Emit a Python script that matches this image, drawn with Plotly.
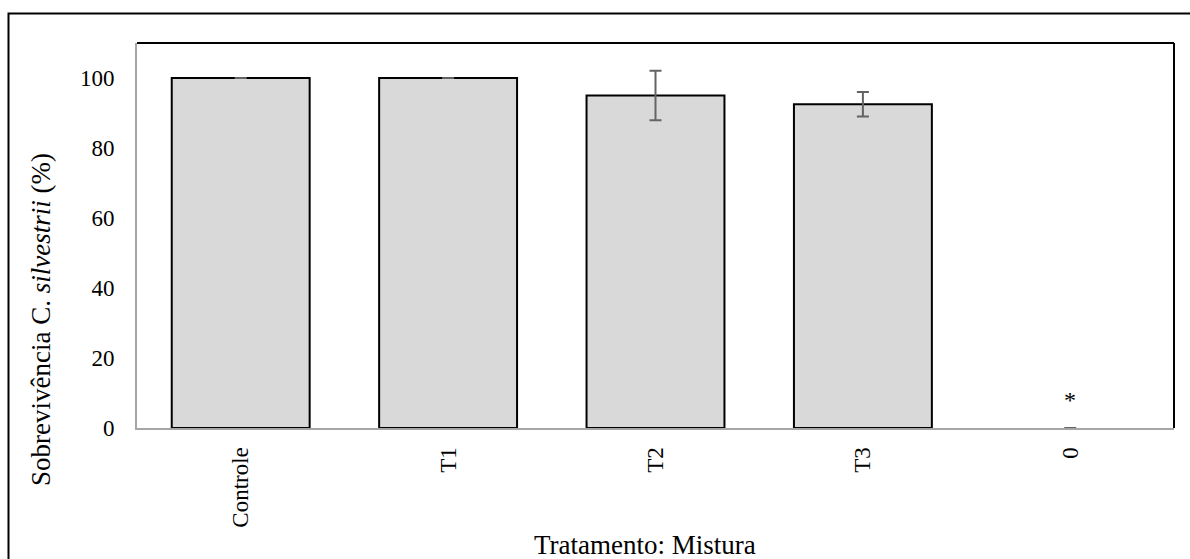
import plotly.graph_objects as go

# Survival data per treatment
categories = ["Controle", "T1", "T2", "T3", "0"]
survival = [100, 100, 95, 92.5, 0]
error = [0, 0, 7.1, 3.5, 0]
marker_labels = ["", "", "", "", "*"]

FONT = "Liberation Serif"

# Bars with zero height get no outline
outline_widths = [2 if v > 0 else 0 for v in survival]

fig = go.Figure()
fig.add_trace(go.Bar(
    x=categories,
    y=survival,
    marker=dict(color="#d9d9d9", line=dict(color="#000000", width=outline_widths)),
    error_y=dict(type="data", array=error, visible=True,
                 color="#646464", thickness=2, width=6),
    showlegend=False,
))

# Significance marks above bars (positioned by category index)
for i, (val, lab) in enumerate(zip(survival, marker_labels)):
    if lab:
        fig.add_annotation(x=i, y=val, text=lab, showarrow=False,
                           yshift=28, font=dict(family=FONT, size=24, color="#000"))

# Axis titles
fig.add_annotation(xref="paper", yref="paper", x=(645 - 137) / 1037, y=(428 - 545) / 385,
                   xanchor="center", yanchor="middle",
                   text="Tratamento: Mistura", showarrow=False,
                   font=dict(family=FONT, size=27, color="#000"))
fig.add_annotation(xref="paper", yref="paper", x=(41 - 137) / 1037, y=(428 - 320) / 385,
                   xanchor="center", yanchor="middle",
                   text="Sobrevivência C. <i>silvestrii</i> (%)", textangle=-90,
                   showarrow=False, font=dict(family=FONT, size=27, color="#000"))

fig.update_layout(
    width=1190, height=559,
    margin=dict(l=137, r=16, t=43, b=131),
    paper_bgcolor="white", plot_bgcolor="white",
    bargap=0.335,
    font=dict(family=FONT, size=23, color="#000"),
    xaxis=dict(
        type="category",
        tickangle=-90, showline=True, linecolor="#a6a6a6", linewidth=2,
        ticks="", showgrid=False, ticklabelstandoff=8,
        tickfont=dict(family=FONT, size=23),
    ),
    yaxis=dict(
        range=[0, 110], tickvals=[0, 20, 40, 60, 80, 100],
        showline=True, linecolor="#a6a6a6", linewidth=2,
        showgrid=False, zeroline=False, ticks="", ticklabelstandoff=16,
        tickfont=dict(family=FONT, size=23),
    ),
)

# Black top and right edges of the plot frame
fig.add_shape(type="line", xref="paper", yref="paper", x0=0, x1=1, y0=1, y1=1,
              line=dict(color="#000", width=2))
fig.add_shape(type="line", xref="paper", yref="paper", x0=1, x1=1, y0=0, y1=1,
              line=dict(color="#000", width=2))

# Outer chart frame
fig.add_shape(type="rect", xref="paper", yref="paper",
              x0=(8.5 - 137) / 1037, x1=(1195 - 137) / 1037,
              y0=-1, y1=(428 - 13.5) / 385,
              line=dict(color="#000", width=2), fillcolor="rgba(0,0,0,0)",
              layer="below")

fig.write_html("out.html")
